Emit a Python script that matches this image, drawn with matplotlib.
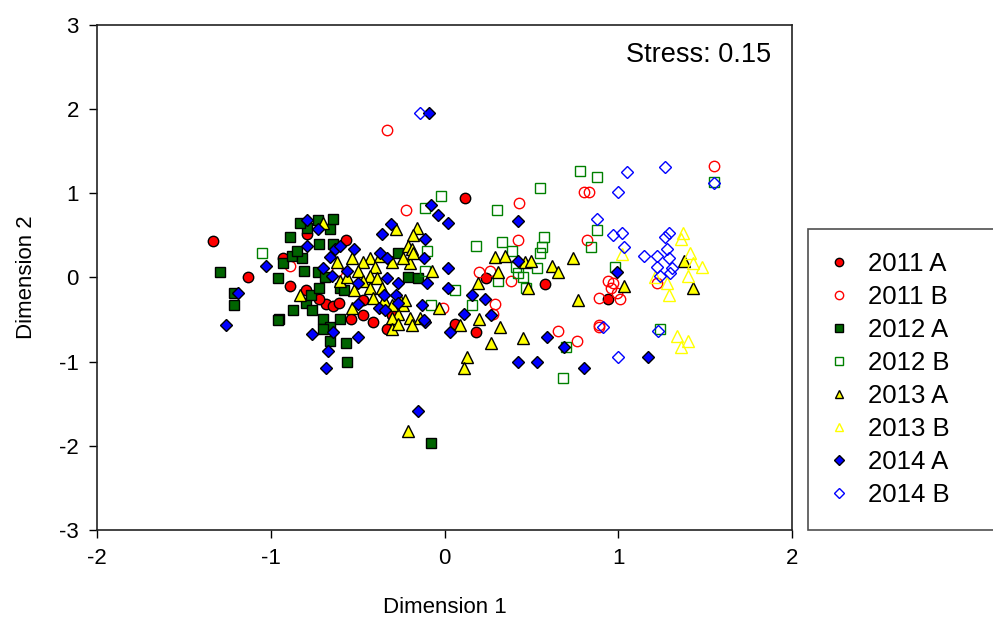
import matplotlib
matplotlib.use('Agg')
import matplotlib.pyplot as plt

plt.rcParams['font.family'] = ['Liberation Sans', 'DejaVu Sans']
plt.rcParams['axes.unicode_minus'] = False

labels = ['2011 A', '2011 B', '2012 A', '2012 B', '2013 A', '2013 B', '2014 A', '2014 B']

# NMDS scores (Dimension 1, Dimension 2)
x_2011a = [-1.33, -1.13, 0.12, 0.58, 0.94, 0.24, 0.18, 0.06, -0.68, -0.64, -0.89, -0.80, -0.93, -0.79,
           -0.47, -0.54, -0.47, -0.41, -0.33, -0.61, -0.57, -0.62, -0.72, -0.30]
y_2011a = [0.43, 0.00, 0.95, -0.08, -0.26, -0.01, -0.65, -0.55, -0.31, -0.34, -0.10, -0.15, 0.23, 0.52,
           -0.27, -0.49, -0.45, -0.53, -0.61, -0.30, 0.44, 0.38, -0.25, -0.45]

x_2011b = [-0.33, 1.55, 0.80, 0.83, 0.43, 0.42, 0.20, 0.26, 0.38, 0.29, -0.01, 0.65, 0.76, 0.89, 0.94,
           0.97, 0.89, 0.99, 0.96, 0.89, 1.22, 0.82, -0.22, -0.62, -0.89, 1.01, 0.28]
y_2011b = [1.75, 1.33, 1.01, 1.01, 0.88, 0.44, 0.06, 0.08, -0.04, -0.31, -0.36, -0.63, -0.75, -0.59, -0.04,
           -0.07, -0.24, -0.19, -0.13, -0.57, -0.07, 0.44, 0.80, 0.08, 0.14, -0.25, -0.43]

x_2012a = [-1.29, -1.21, -1.21, -0.08, -0.56, -0.95, -0.87, -0.80, -0.77, -0.76, -0.70, -0.66, -0.70,
           -0.96, -0.93, -0.88, -0.82, -0.81, -0.73, -0.72, -0.64, -0.66, -0.79, -0.83, -0.73, -0.69,
           -0.72, -0.89, -0.85, -0.66, -0.64, -0.60, -0.58, -0.60, -0.57, -0.21, -0.15, -0.27, -0.96]
y_2012a = [0.06, -0.19, -0.33, -1.97, -1.00, -0.49, -0.39, -0.30, -0.21, -0.39, -0.49, -0.59, -0.61,
           -0.01, 0.17, 0.26, 0.23, 0.08, 0.06, 0.40, 0.40, 0.58, 0.59, 0.65, 0.68, 0.00,
           -0.13, 0.48, 0.32, -0.75, 0.70, -0.12, -0.15, -0.49, -0.78, 0.00, -0.01, 0.29, -0.51]

x_2012b = [1.55, 0.78, 0.88, 0.55, 0.30, -0.02, 0.18, 0.33, 0.57, 0.56, 0.55, 0.53, 0.42, 0.31, 0.41,
           0.47, 0.45, 0.84, 0.88, 0.68, 0.70, 0.06, 0.16, 0.98, 1.24, -1.05, -0.11, -0.10, -0.11,
           -0.08, 0.39]
y_2012b = [1.13, 1.27, 1.19, 1.06, 0.80, 0.97, 0.38, 0.42, 0.48, 0.36, 0.29, 0.11, 0.05, -0.04, 0.12,
           -0.12, 0.00, 0.36, 0.56, -1.19, -0.83, -0.15, -0.33, 0.12, -0.61, 0.29, 0.83, 0.32, 0.08,
           -0.33, 0.32]

x_2013a = [-0.21, 0.29, 0.35, 0.46, 0.50, 0.62, 0.65, 0.74, 0.31, 0.48, 0.19, 0.20, 0.09, 0.32, 0.45,
           0.27, 0.13, 0.11, 0.77, 1.03, 1.43, 1.38, -0.07, -0.03,
           -0.28, -0.16, -0.18, -0.21, -0.43, -0.37, -0.30, -0.47, -0.53, -0.50, -0.40, -0.43, -0.47,
           -0.39, -0.60, -0.52, -0.43, -0.36, -0.41, -0.35, -0.26, -0.24, -0.27, -0.30, -0.20, -0.23,
           -0.30, -0.20, -0.19, -0.24, -0.18, -0.19, -0.30, -0.53, -0.56, -0.14, -0.27, -0.70, -0.62,
           -0.83]
y_2013a = [-1.82, 0.24, 0.26, 0.18, 0.20, 0.14, 0.06, 0.23, 0.06, -0.12, -0.07, -0.49, -0.57, -0.59, -0.72,
           -0.78, -0.95, -1.08, -0.27, -0.10, -0.13, 0.20, 0.08, -0.36,
           0.58, 0.59, 0.50, 0.38, 0.23, 0.26, 0.18, 0.18, 0.23, 0.08, 0.12, 0.02, -0.04,
           -0.01, -0.04, -0.15, -0.12, -0.13, -0.24, -0.27, -0.24, -0.33, -0.43, -0.48, -0.48, -0.27,
           -0.33, 0.17, 0.34, 0.23, 0.29, -0.57, -0.61, -0.36, 0.00, -0.48, -0.55, 0.65, 0.18,
           -0.21]

x_2013b = [1.37, 1.36, 1.41, 1.43, 1.48, 1.40, 1.28, 1.29, 1.21, 1.34, 1.40, 1.36, 1.02]
y_2013b = [0.53, 0.46, 0.29, 0.17, 0.12, 0.02, -0.07, -0.21, 0.00, -0.69, -0.75, -0.83, 0.28]

x_2014a = [-0.09, -0.15, -0.08, -0.04, 0.02, 0.42, -0.11, 0.02, -0.10, 0.02, 0.16, 0.23, 0.27, 0.11,
           0.03, -0.13, -0.11, 0.42, 0.53, 0.69, 0.80, 0.59, 0.42, 0.99, 1.17,
           -0.79, -0.73, -0.79, -1.03, -1.19, -1.26, -0.70, -0.76, -0.67, -0.68, -0.64, -0.66, -0.31,
           -0.36, -0.37, -0.33, -0.63, -0.60, -0.52, -0.56, -0.65, -0.12, -0.33, -0.27, -0.28, -0.27,
           -0.35, -0.50, -0.50, -0.38, -0.34, -0.12, -0.50]
y_2014a = [1.95, -1.59, 0.86, 0.74, 0.65, 0.67, 0.46, 0.11, -0.06, -0.12, -0.21, -0.25, -0.45, -0.43,
           -0.65, -0.33, -0.53, -1.01, -1.01, -0.83, -1.08, -0.71, 0.20, 0.06, -0.94,
           0.68, 0.58, 0.38, 0.14, -0.19, -0.57, 0.11, -0.67, -0.87, -1.08, -0.65, 0.24, 0.64,
           0.52, 0.29, 0.23, 0.34, 0.38, 0.34, 0.08, 0.02, 0.23, -0.01, -0.06, -0.21, -0.30,
           -0.21, -0.07, -0.31, -0.36, -0.39, -0.51, -0.71]

x_2014b = [-0.14, 1.05, 1.27, 1.00, 1.55, 0.88, 0.97, 1.02, 1.03, 1.15, 1.29, 1.27, 1.28, 1.22, 1.29,
           1.22, 1.31, 1.24, 1.30, 0.91, 1.23, 1.00]
y_2014b = [1.95, 1.25, 1.31, 1.01, 1.12, 0.70, 0.50, 0.53, 0.36, 0.26, 0.53, 0.48, 0.34, 0.26, 0.23,
           0.12, 0.11, 0.02, 0.05, -0.59, -0.63, -0.94]

xs = [x_2011a, x_2011b, x_2012a, x_2012b, x_2013a, x_2013b, x_2014a, x_2014b]
ys = [y_2011a, y_2011b, y_2012a, y_2012b, y_2013a, y_2013b, y_2014a, y_2014b]

colors = ['#ff0000', '#ff0000', '#006400', '#008000', '#ffff00', '#ffff00', '#0000ff', '#0000ff']
markers = ['o', 'o', 's', 's', '^', '^', 'D', 'D']
sizes = [7.5, 7.5, 7.5, 7.5, 8, 8, 6.5, 6.5]

fig = plt.figure(figsize=(9.93, 6.23), dpi=100)
ax = fig.add_axes([0.0977, 0.1493, 0.7000, 0.8106])

for i in range(len(labels)):
    filled = labels[i].endswith('A')
    if filled:
        ax.plot(xs[i], ys[i], linestyle='none', marker=markers[i], markersize=sizes[i],
                markerfacecolor=colors[i], markeredgecolor='black', markeredgewidth=1.0,
                label=labels[i])
    else:
        ax.plot(xs[i], ys[i], linestyle='none', marker=markers[i], markersize=sizes[i],
                markerfacecolor='none', markeredgecolor=colors[i], markeredgewidth=1.0,
                label=labels[i])

ax.set_xlim(-2, 2)
ax.set_ylim(-3, 3)
ax.set_xticks([-2, -1, 0, 1, 2])
ax.set_yticks([-3, -2, -1, 0, 1, 2, 3])
ax.tick_params(direction='out', length=6, width=1, labelsize=16, pad=7)
for s in ax.spines.values():
    s.set_linewidth(1.2)
    s.set_color('#222222')

ax.set_xlabel('Dimension 1', fontsize=16, labelpad=20)
ax.set_ylabel('Dimension 2', fontsize=16, labelpad=16)
ax.text(1.88, 2.64, 'Stress: 0.15', ha='right', va='center', fontsize=19.5)

leg = fig.legend(loc='lower left', bbox_to_anchor=(0.8137, 0.1493, 0.19, 0.48), mode='expand',
                 fontsize=18.5, frameon=True, fancybox=False, borderpad=0.9, labelspacing=0.35,
                 handlelength=0.6, handletextpad=0.85, markerscale=0.8, borderaxespad=0)
leg.get_frame().set_edgecolor('#222222')
leg.get_frame().set_linewidth(1.2)

fig.savefig('out.png', dpi=100)
